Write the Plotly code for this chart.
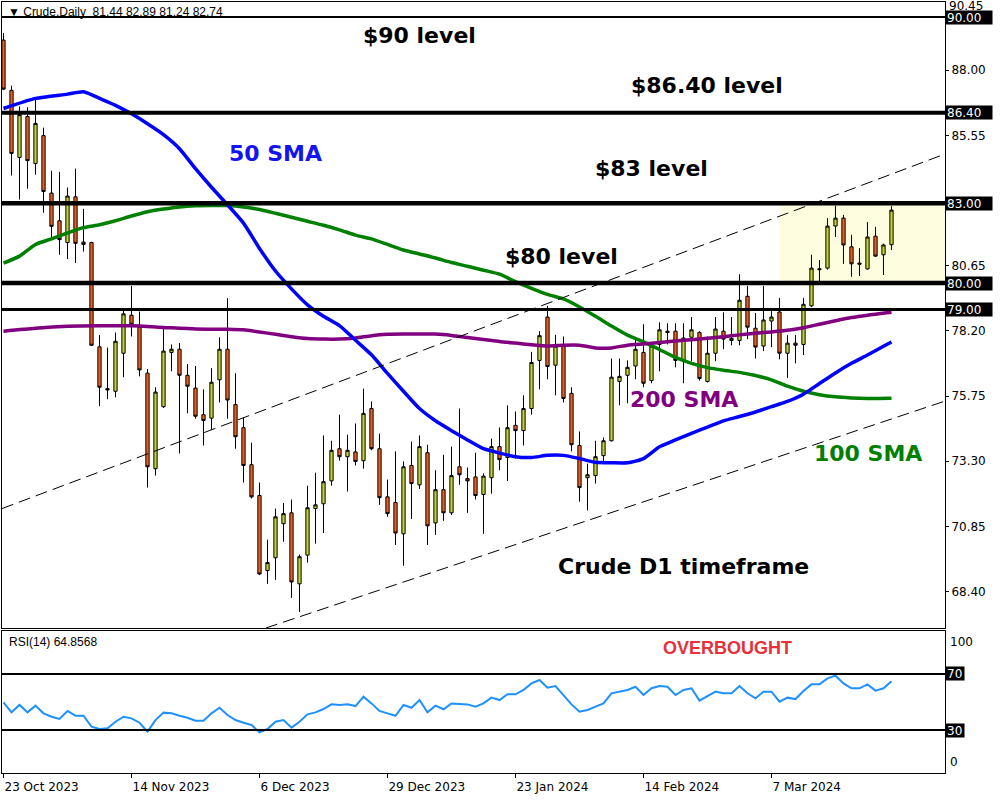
import plotly.graph_objects as go
from plotly.subplots import make_subplots

# ---------------- data ----------------
date_labels = ["23 Oct 2023", "14 Nov 2023", "6 Dec 2023", "29 Dec 2023",
               "23 Jan 2024", "14 Feb 2024", "7 Mar 2024"]
date_label_bars = [0, 16, 32, 48, 64, 80, 96]

opens = [89.13, 87.24, 84.72, 86.26, 84.49, 85.54, 83.38, 82.34, 81.52, 83.24,
         81.54, 81.52, 77.60, 76.03, 75.93, 77.36, 78.79, 78.34, 76.61, 73.02,
         75.35, 77.39, 77.51, 76.53, 76.05, 75.05, 74.92, 76.36, 77.51, 75.43,
         74.56, 73.17, 72.01, 69.19, 69.67, 70.95, 71.36, 68.69, 69.77, 71.52,
         71.70, 72.56, 73.77, 73.47, 73.65, 73.32, 75.28, 73.77, 71.96, 71.75,
         70.57, 73.14, 72.41, 73.62, 70.98, 72.23, 71.36, 73.09, 72.65, 72.71,
         72.05, 72.68, 73.85, 73.44, 74.65, 74.45, 75.28, 77.09, 78.72, 76.91,
         77.69, 75.85, 73.89, 72.68, 72.76, 73.51, 74.07, 76.30, 76.53, 76.88,
         77.39, 76.33, 77.69, 78.19, 78.19, 77.09, 77.96, 78.14, 76.30, 77.36,
         78.19, 77.84, 77.84, 79.50, 78.30, 77.63, 78.57, 78.91, 77.36, 77.74,
         77.69, 79.14, 80.50, 80.56, 82.14, 82.44, 81.36, 80.75, 80.53, 81.76,
         81.06, 81.44]
highs = [89.40, 87.42, 86.64, 86.61, 86.89, 85.84, 84.22, 84.18, 83.59, 84.30,
         82.79, 81.55, 78.04, 77.57, 78.14, 79.02, 79.89, 78.93, 76.76, 76.08,
         78.27, 77.69, 77.74, 76.95, 76.88, 76.00, 76.80, 77.96, 79.43, 76.61,
         74.95, 74.00, 72.50, 70.35, 71.52, 71.73, 71.86, 69.79, 72.38, 72.87,
         74.27, 74.07, 75.05, 74.30, 74.72, 76.03, 75.55, 74.34, 72.61, 73.67,
         73.29, 74.04, 74.27, 73.92, 72.96, 73.54, 73.85, 75.28, 73.06, 73.62,
         72.84, 74.15, 74.57, 75.40, 75.17, 75.78, 77.41, 78.19, 79.14, 78.05,
         77.99, 76.08, 74.42, 73.21, 74.07, 74.19, 77.16, 77.16, 77.09, 77.92,
         78.45, 77.74, 78.52, 78.49, 78.49, 78.49, 78.72, 78.19, 77.99, 78.72,
         78.90, 78.72, 80.33, 79.89, 78.87, 79.89, 78.94, 79.44, 78.04, 78.04,
         79.44, 81.06, 80.86, 82.44, 82.91, 82.56, 81.81, 81.31, 82.29, 82.11,
         81.48, 82.89]
lows = [87.25, 84.04, 83.14, 83.54, 84.07, 82.64, 81.66, 81.06, 80.90, 80.75,
        81.18, 77.63, 75.37, 75.63, 75.70, 76.46, 77.99, 76.49, 72.31, 72.76,
        75.30, 76.68, 73.59, 75.10, 74.90, 73.89, 74.49, 75.51, 74.90, 73.77,
        72.50, 71.90, 69.02, 68.69, 68.84, 70.27, 68.16, 67.63, 69.49, 70.20,
        70.60, 72.38, 73.32, 72.16, 73.14, 73.02, 73.71, 71.66, 71.21, 70.15,
        69.37, 71.13, 72.26, 70.15, 70.53, 71.06, 71.28, 72.41, 71.36, 71.86,
        70.57, 72.08, 72.96, 72.56, 73.39, 73.89, 75.05, 76.00, 76.38, 75.78,
        75.51, 73.67, 71.78, 71.45, 72.46, 73.29, 74.04, 75.40, 75.48, 76.38,
        76.08, 76.23, 76.68, 77.69, 76.83, 76.23, 77.06, 76.33, 76.26, 77.06,
        77.51, 77.66, 77.66, 77.89, 77.16, 77.44, 77.59, 77.13, 76.43, 76.98,
        77.29, 79.09, 79.95, 80.50, 81.73, 80.72, 80.23, 80.26, 80.50, 80.98,
        80.30, 81.24]
closes = [87.29, 84.87, 86.33, 84.60, 86.00, 83.44, 82.13, 81.63, 83.27, 81.49,
          81.45, 77.66, 76.08, 75.98, 77.81, 78.84, 78.45, 76.73, 73.09, 75.90,
          77.44, 77.51, 76.53, 76.12, 74.99, 74.83, 76.27, 77.51, 75.60, 74.22,
          73.14, 71.96, 69.06, 69.49, 71.21, 71.33, 68.76, 69.71, 71.55, 71.66,
          72.53, 73.71, 73.47, 73.71, 73.29, 75.10, 73.77, 71.93, 71.33, 70.60,
          73.09, 72.46, 73.85, 70.87, 72.23, 71.36, 72.76, 72.79, 72.56, 72.01,
          72.74, 73.85, 73.36, 74.56, 74.45, 75.28, 77.01, 78.02, 76.86, 77.63,
          75.66, 73.92, 72.31, 72.79, 73.47, 74.07, 76.46, 76.49, 76.83, 77.51,
          76.23, 77.63, 78.24, 78.14, 77.09, 77.93, 78.24, 76.41, 77.36, 78.27,
          77.89, 77.92, 79.35, 78.34, 77.59, 78.61, 78.72, 77.36, 77.74, 77.66,
          79.20, 80.56, 80.53, 82.14, 82.44, 81.43, 80.72, 80.71, 81.73, 81.01,
          81.43, 82.74]
bars = list(range(len(opens)))

sma50_bars = [0, 4, 8, 10, 12, 14, 16, 18, 20, 22, 24, 26, 28, 30, 32, 34, 36, 38,
              40, 42, 44, 46, 48, 50, 52, 54, 56, 58, 60, 62, 64, 66, 68, 70, 72,
              74, 76, 78, 80, 82, 84, 86, 88, 90, 92, 94, 96, 98, 100, 102, 104,
              106, 108, 110, 111]
sma50_vals = [86.56, 86.94, 87.10, 87.19, 86.94, 86.68, 86.36, 85.99, 85.58, 85.05,
              84.30, 83.60, 82.94, 82.25, 81.30, 80.45, 79.78, 79.18, 78.75, 78.40,
              77.85, 77.30, 76.60, 75.93, 75.28, 74.82, 74.45, 74.10, 73.77, 73.61,
              73.47, 73.44, 73.52, 73.52, 73.40, 73.26, 73.24, 73.24, 73.40, 73.84,
              74.10, 74.35, 74.58, 74.82, 74.98, 75.15, 75.35, 75.55, 75.82, 76.22,
              76.62, 76.98, 77.29, 77.62, 77.78]

sma100_bars = [0, 2, 4, 6, 8, 10, 12, 14, 16, 18, 20, 22, 24, 26, 28, 30, 32, 34,
               36, 38, 40, 42, 44, 46, 48, 50, 52, 54, 56, 58, 60, 62, 64, 66, 68,
               70, 72, 74, 76, 78, 80, 82, 84, 86, 88, 90, 92, 94, 96, 98, 100,
               102, 104, 106, 108, 111]
sma100_vals = [80.75, 81.01, 81.45, 81.66, 81.88, 82.08, 82.19, 82.34, 82.52, 82.68,
               82.78, 82.86, 82.90, 82.91, 82.91, 82.86, 82.76, 82.62, 82.47, 82.32,
               82.17, 82.00, 81.80, 81.66, 81.45, 81.24, 81.09, 80.94, 80.77, 80.63,
               80.48, 80.33, 80.05, 79.80, 79.57, 79.40, 79.10, 78.75, 78.38, 78.04,
               77.79, 77.50, 77.20, 76.98, 76.82, 76.72, 76.64, 76.52, 76.36, 76.12,
               75.93, 75.80, 75.72, 75.68, 75.66, 75.67]

sma200_bars = [0, 4, 8, 12, 16, 20, 24, 28, 30, 32, 34, 36, 38, 40, 42, 44, 46, 48,
               50, 54, 56, 58, 60, 62, 64, 66, 68, 70, 72, 74, 76, 78, 80, 82, 84,
               86, 88, 90, 92, 94, 96, 98, 100, 102, 104, 106, 108, 111]
sma200_vals = [78.19, 78.30, 78.37, 78.39, 78.39, 78.33, 78.27, 78.26, 78.24, 78.16,
               78.07, 77.98, 77.91, 77.89, 77.89, 77.93, 78.02, 78.07, 78.08, 78.08,
               78.03, 77.95, 77.88, 77.80, 77.74, 77.68, 77.63, 77.66, 77.66, 77.56,
               77.56, 77.66, 77.71, 77.76, 77.82, 77.87, 77.92, 77.98, 78.05, 78.11,
               78.16, 78.22, 78.32, 78.45, 78.58, 78.70, 78.79, 78.90]

rsi_vals = [49.8, 42.6, 47.9, 42.6, 47.4, 41.9, 39.5, 37.9, 43.6, 40.2,
            40.2, 32.4, 30.7, 31.2, 35.9, 39.5, 38.3, 35.2, 28.8, 37.1,
            42.4, 41.9, 40.2, 38.8, 36.7, 36.7, 41.9, 45.9, 40.7, 37.1,
            35.2, 33.6, 28.3, 30.7, 35.9, 37.1, 31.7, 35.9, 41.2, 42.6,
            45.0, 48.3, 47.9, 48.3, 47.1, 53.8, 49.0, 43.6, 41.9, 40.2,
            47.9, 45.9, 51.4, 42.6, 47.4, 44.8, 49.0, 48.8, 48.3, 46.7,
            49.0, 53.1, 51.4, 55.5, 55.5, 58.6, 63.3, 65.7, 60.2, 61.4,
            54.5, 48.3, 43.1, 44.3, 46.7, 49.0, 56.2, 57.4, 58.6, 60.9,
            55.0, 59.8, 61.4, 60.9, 55.0, 58.6, 59.8, 51.0, 54.3, 57.4,
            56.2, 56.2, 61.4, 56.2, 52.6, 57.4, 57.4, 50.2, 53.1, 52.1,
            57.9, 62.6, 62.6, 66.9, 68.8, 63.3, 59.8, 59.8, 62.6, 58.1,
            59.8, 64.9]

levels = [90.00, 86.40, 83.00, 80.00, 79.00]
level_labels = ["90.00", "86.40", "83.00", "80.00", "79.00"]
price_ticks = [88.00, 85.55, 80.65, 78.20, 75.75, 73.30, 70.85, 68.40]
top_price_label = "90.45"
rsi_levels = [70, 30]

# ---------------- figure ----------------
fig = make_subplots(rows=2, cols=1, shared_xaxes=True, vertical_spacing=0.01)

fig.add_trace(go.Candlestick(
    x=bars, open=opens, high=highs, low=lows, close=closes,
    increasing=dict(fillcolor="#C4D52E", line=dict(color="black", width=1)),
    decreasing=dict(fillcolor="#F35E20", line=dict(color="black", width=1)),
    whiskerwidth=0, showlegend=False, hoverinfo="skip"), row=1, col=1)

for bx, vals, col in [(sma100_bars, sma100_vals, "#008000"),
                      (sma200_bars, sma200_vals, "#800080"),
                      (sma50_bars, sma50_vals, "#0000FF")]:
    fig.add_trace(go.Scatter(x=bx, y=vals, mode="lines",
                             line=dict(color=col, width=3.5, shape="spline", smoothing=0.6),
                             showlegend=False, hoverinfo="skip"), row=1, col=1)

fig.add_trace(go.Scatter(x=bars, y=rsi_vals, mode="lines",
                         line=dict(color="#1E90FF", width=2),
                         showlegend=False, hoverinfo="skip"), row=2, col=1)

XR = [-0.1875, 117.69]
axis_common = dict(showgrid=False, zeroline=False, showline=True, mirror=True,
                   linecolor="black", linewidth=1, automargin=False)

fig.update_layout(
    width=1000, height=800,
    margin=dict(l=2, r=55, t=2, b=27, autoexpand=False),
    paper_bgcolor="white", plot_bgcolor="white",
    boxgap=0.42,
    font=dict(family="DejaVu Sans", size=12, color="black"),
    xaxis=dict(range=XR, domain=[0, 1], showticklabels=False, ticks="",
               rangeslider=dict(visible=False), **axis_common),
    xaxis2=dict(range=XR, domain=[0, 1], tickmode="array",
                tickvals=date_label_bars, ticktext=date_labels,
                ticks="outside", ticklen=4, tickcolor="black",
                ticklabelposition="outside right", ticklabeloverflow="allow",
                ticklabelstandoff=3,
                tickfont=dict(family="DejaVu Sans", size=12, color="black"),
                rangeslider=dict(visible=False), **axis_common),
    yaxis=dict(domain=[0.18807, 1], range=[67.03, 90.564], side="right",
               tickmode="array", tickvals=price_ticks,
               ticktext=[f"{v:.2f}" for v in price_ticks],
               ticks="outside", ticklen=3, tickcolor="black",
               ticklabeloverflow="allow",
               tickfont=dict(family="DejaVu Sans", size=12, color="black"),
               **axis_common),
    yaxis2=dict(domain=[0, 0.18418], range=[-0.7, 100.7], side="right",
                showticklabels=False, ticks="", **axis_common),
)

shapes = []
# highlighted consolidation zone
shapes.append(dict(type="rect", xref="x", yref="y", x0=96.94, x1=XR[1],
                   y0=80.0, y1=83.0, fillcolor="#FFFDE0", line=dict(width=0),
                   layer="below"))
# channel trend lines
shapes.append(dict(type="line", xref="x", yref="y", x0=XR[0], y0=71.52,
                   x1=XR[1], y1=84.85, line=dict(color="black", width=1, dash="12px,6px")))
shapes.append(dict(type="line", xref="x", yref="y", x0=32.8, y0=67.03,
                   x1=XR[1], y1=75.56, line=dict(color="black", width=1, dash="12px,6px")))
# horizontal levels
level_w = [2, 4, 4.5, 4.5, 3]
for lv, w in zip(levels, level_w):
    shapes.append(dict(type="line", xref="x", yref="y", x0=XR[0], x1=XR[1],
                       y0=lv, y1=lv, line=dict(color="black", width=w)))
for lv in rsi_levels:
    shapes.append(dict(type="line", xref="x2", yref="y2", x0=XR[0], x1=XR[1],
                       y0=lv, y1=lv, line=dict(color="black", width=2)))
fig.update_layout(shapes=shapes)

ann = []
big = dict(family="DejaVu Sans", size=22, color="black", weight="bold")
texts = [("$90 level", 52.06, 89.32, "black"),
         ("$86.40 level", 87.94, 87.44, "black"),
         ("50 SMA", 34.06, 84.85, "#1414F0"),
         ("$83 level", 80.94, 84.29, "black"),
         ("$80 level", 69.81, 80.98, "black"),
         ("200 SMA", 85.06, 75.62, "#800080"),
         ("100 SMA", 108.06, 73.59, "#008000"),
         ("Crude D1 timeframe", 84.94, 69.36, "black")]
for t, x, y, c in texts:
    f = dict(big)
    f["color"] = c
    ann.append(dict(text=t, x=x, y=y, xref="x", yref="y", showarrow=False,
                    xanchor="center", yanchor="middle", font=f))

ann.append(dict(text="OVERBOUGHT", x=90.56, y=88.6, xref="x2", yref="y2",
                showarrow=False, xanchor="center", yanchor="middle",
                font=dict(family="Liberation Sans", size=18, color="#E8303A",
                          weight="bold")))

# top price-scale label (kept inside the page)
ann.append(dict(text=top_price_label, x=1, y=1, xref="paper", yref="paper",
                showarrow=False, xanchor="left", yanchor="top", xshift=3, yshift=2,
                height=9, valign="middle", borderpad=0,
                font=dict(family="DejaVu Sans", size=12, color="black")))

for lv, lab in zip(levels, level_labels):
    ann.append(dict(text=lab, x=1, y=lv, xref="paper", yref="y", showarrow=False,
                    xanchor="left", yanchor="middle", xshift=0, align="left",
                    width=44, height=11, bgcolor="black", borderpad=1,
                    font=dict(family="DejaVu Sans", size=12, color="white")))
for lv in rsi_levels:
    ann.append(dict(text=str(lv), x=1, y=lv, xref="paper", yref="y2", showarrow=False,
                    xanchor="left", yanchor="middle", xshift=0, align="left",
                    width=16, height=11, bgcolor="black", borderpad=1,
                    font=dict(family="DejaVu Sans", size=12, color="white")))
ann.append(dict(text="100", x=1, y=100, xref="paper", yref="y2", showarrow=False,
                xanchor="left", yanchor="top", xshift=3, yshift=-1,
                font=dict(family="DejaVu Sans", size=12, color="black")))
ann.append(dict(text="0", x=1, y=0, xref="paper", yref="y2", showarrow=False,
                xanchor="left", yanchor="bottom", xshift=3, yshift=1,
                font=dict(family="DejaVu Sans", size=12, color="black")))
ann.append(dict(text="\u25BC Crude,Daily  81.44 82.89 81.24 82.74", x=0, y=1,
                xref="paper", yref="paper", showarrow=False, xanchor="left",
                yanchor="top", xshift=4, yshift=-1,
                font=dict(family="Liberation Sans", size=12, color="black")))
ann.append(dict(text="RSI(14) 64.8568", x=0, y=0.18418, xref="paper", yref="paper",
                showarrow=False, xanchor="left", yanchor="top", xshift=5, yshift=-2,
                font=dict(family="Liberation Sans", size=12, color="black")))
fig.update_layout(annotations=ann)

fig.write_html("out.html", config={"displayModeBar": False},
               post_script="document.body.style.margin='0';document.body.style.padding='0';")
